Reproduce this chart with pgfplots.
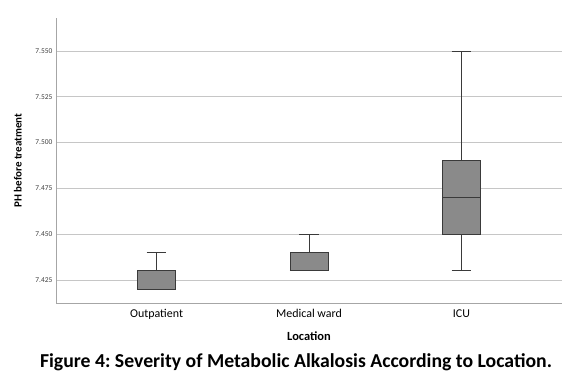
\documentclass[border=0pt]{standalone}
\usepackage{fontspec}
\setmainfont{Carlito}
\usepackage{pgfplots}
\pgfplotsset{compat=1.18}
\definecolor{boxfill}{HTML}{8A8A8A}
\definecolor{boxline}{HTML}{3A3A3A}
\frenchspacing
\begin{document}
\begin{tikzpicture}
\path[use as bounding box] (0bp,0bp) rectangle (580bp,379bp);
\begin{axis}[
  at={(56bp,76bp)}, anchor=south west,
  scale only axis, width=506bp, height=285bp,
  xmin=-0.66, xmax=2.66,
  ymin=7.4124, ymax=7.568,
  xtick={0,1,2},
  xticklabels={Outpatient,Medical ward,ICU},
  ytick={7.425,7.45,7.475,7.5,7.525,7.55},
  yticklabel style={/pgf/number format/fixed,/pgf/number format/precision=3,/pgf/number format/fixed zerofill,font=\fontsize{7.5}{9}\selectfont,text=black!75},
  xticklabel style={font=\fontsize{12}{14}\selectfont, yshift=-3bp},
  /pgf/number format/assume math mode=true,
  scaled y ticks=false,
  axis x line*=bottom, axis y line*=left,
  axis line style={gray!70, -},
  major tick length=0pt,
  ymajorgrids, grid style={gray!45, line width=0.6pt},
  xlabel={\textbf{Location}},
  ylabel={\textbf{PH before treatment}},
  xlabel style={font=\fontsize{12.5}{14}\selectfont, yshift=-5bp},
  ylabel style={font=\fontsize{11}{12}\selectfont, yshift=7bp},
  clip=false,
]
% Outpatient: whiskers 7.42 / 7.44, box 7.42-7.43, median 7.43
\addplot[boxline, line width=0.8pt] coordinates {(0,7.43) (0,7.44)};
\addplot[boxline, line width=0.8pt] coordinates {(-0.065,7.44) (0.065,7.44)};
\addplot[fill=boxfill, draw=boxline, line width=0.8pt] coordinates {(-0.125,7.42) (0.125,7.42) (0.125,7.43) (-0.125,7.43)} -- cycle;
\addplot[boxline, line width=1.3pt] coordinates {(-0.125,7.43) (0.125,7.43)};
% Medical ward: whiskers 7.43 / 7.45, box 7.43-7.44, median 7.43
\addplot[boxline, line width=0.8pt] coordinates {(1,7.44) (1,7.45)};
\addplot[boxline, line width=0.8pt] coordinates {(0.935,7.45) (1.065,7.45)};
\addplot[fill=boxfill, draw=boxline, line width=0.8pt] coordinates {(0.875,7.43) (1.125,7.43) (1.125,7.44) (0.875,7.44)} -- cycle;
\addplot[boxline, line width=1.3pt] coordinates {(0.875,7.43) (1.125,7.43)};
% ICU: whiskers 7.43 / 7.55, box 7.45-7.49, median 7.47
\addplot[boxline, line width=0.8pt] coordinates {(2,7.43) (2,7.45)};
\addplot[boxline, line width=0.8pt] coordinates {(2,7.49) (2,7.55)};
\addplot[boxline, line width=0.8pt] coordinates {(1.935,7.43) (2.065,7.43)};
\addplot[boxline, line width=0.8pt] coordinates {(1.935,7.55) (2.065,7.55)};
\addplot[fill=boxfill, draw=boxline, line width=0.8pt] coordinates {(1.875,7.45) (2.125,7.45) (2.125,7.49) (1.875,7.49)} -- cycle;
\addplot[boxline, line width=1.0pt] coordinates {(1.875,7.47) (2.125,7.47)};
\end{axis}
\node[font=\fontsize{19.8}{23}\selectfont\bfseries] at (296bp,17bp) {Figure 4: Severity of Metabolic Alkalosis According to Location.};
\end{tikzpicture}
\end{document}
